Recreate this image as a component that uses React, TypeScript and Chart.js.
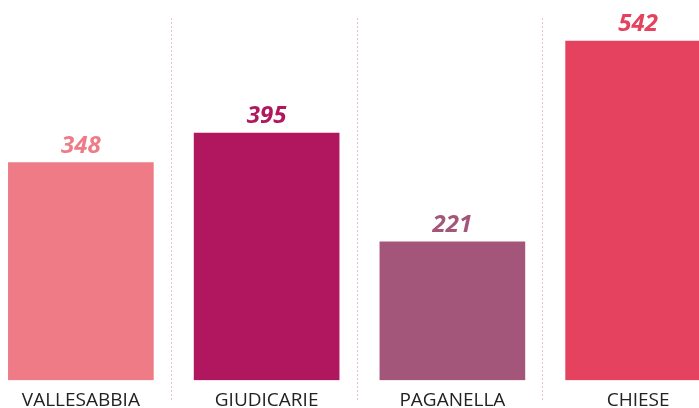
import React, { useEffect, useRef } from "react";
import { Chart, registerables } from "chart.js";

Chart.register(...registerables);

const categories = ["VALLESABBIA", "GIUDICARIE", "PAGANELLA", "CHIESE"];
const values = [348, 395, 221, 542];
const colors = ["#EE7B85", "#B0175F", "#A35679", "#E5425F"];

const separatorPlugin = {
  id: "separators",
  beforeDatasetsDraw(chart: any) {
    const { ctx } = chart;
    const x = chart.scales.x;
    ctx.save();
    ctx.strokeStyle = "#E8C3CF";
    ctx.lineWidth = 1;
    ctx.setLineDash([2, 2]);
    for (let i = 1; i < categories.length; i++) {
      const px = Math.round((x.getPixelForValue(i - 1) + x.getPixelForValue(i)) / 2) - 2.5;
      ctx.beginPath();
      ctx.moveTo(px, 18);
      ctx.lineTo(px, 402);
      ctx.stroke();
    }
    ctx.restore();
  },
};

const valueLabelPlugin = {
  id: "valueLabels",
  afterDatasetsDraw(chart: any) {
    const { ctx } = chart;
    const meta = chart.getDatasetMeta(0);
    ctx.save();
    ctx.font = "italic bold 24px 'Open Sans'";
    ctx.textAlign = "center";
    ctx.textBaseline = "alphabetic";
    meta.data.forEach((bar: any, i: number) => {
      ctx.fillStyle = colors[i];
      ctx.fillText(String(values[i]), bar.x, bar.y - 10);
    });
    ctx.restore();
  },
};

export default function App() {
  const ref = useRef<HTMLCanvasElement>(null);
  useEffect(() => {
    document.body.style.margin = "0";
    const chart = new Chart(ref.current!, {
      type: "bar",
      data: {
        labels: categories,
        datasets: [
          {
            data: values,
            backgroundColor: colors,
            barThickness: 145,
          },
        ],
      },
      options: {
        responsive: false,
        animation: false,
        layout: { padding: { top: 18, bottom: -13, left: 0, right: 0 } },
        plugins: { legend: { display: false }, tooltip: { enabled: false } },
        scales: {
          x: {
            grid: { display: false, drawTicks: false },
            border: { display: false },
            ticks: {
              padding: 9,
              color: "#222222",
              font: { family: "'Open Sans'", size: 19 },
            },
          },
          y: {
            display: false,
            min: 0,
            max: 579,
          },
        },
      },
      plugins: [separatorPlugin, valueLabelPlugin],
    });
    return () => chart.destroy();
  }, []);
  return (
    <div style={{ position: "fixed", left: 0, top: 0, width: 699, height: 408, overflow: "hidden", background: "#fff" }}>
      <canvas ref={ref} width={743} height={408} style={{ position: "absolute", left: -12, top: 0 }} />
    </div>
  );
}
